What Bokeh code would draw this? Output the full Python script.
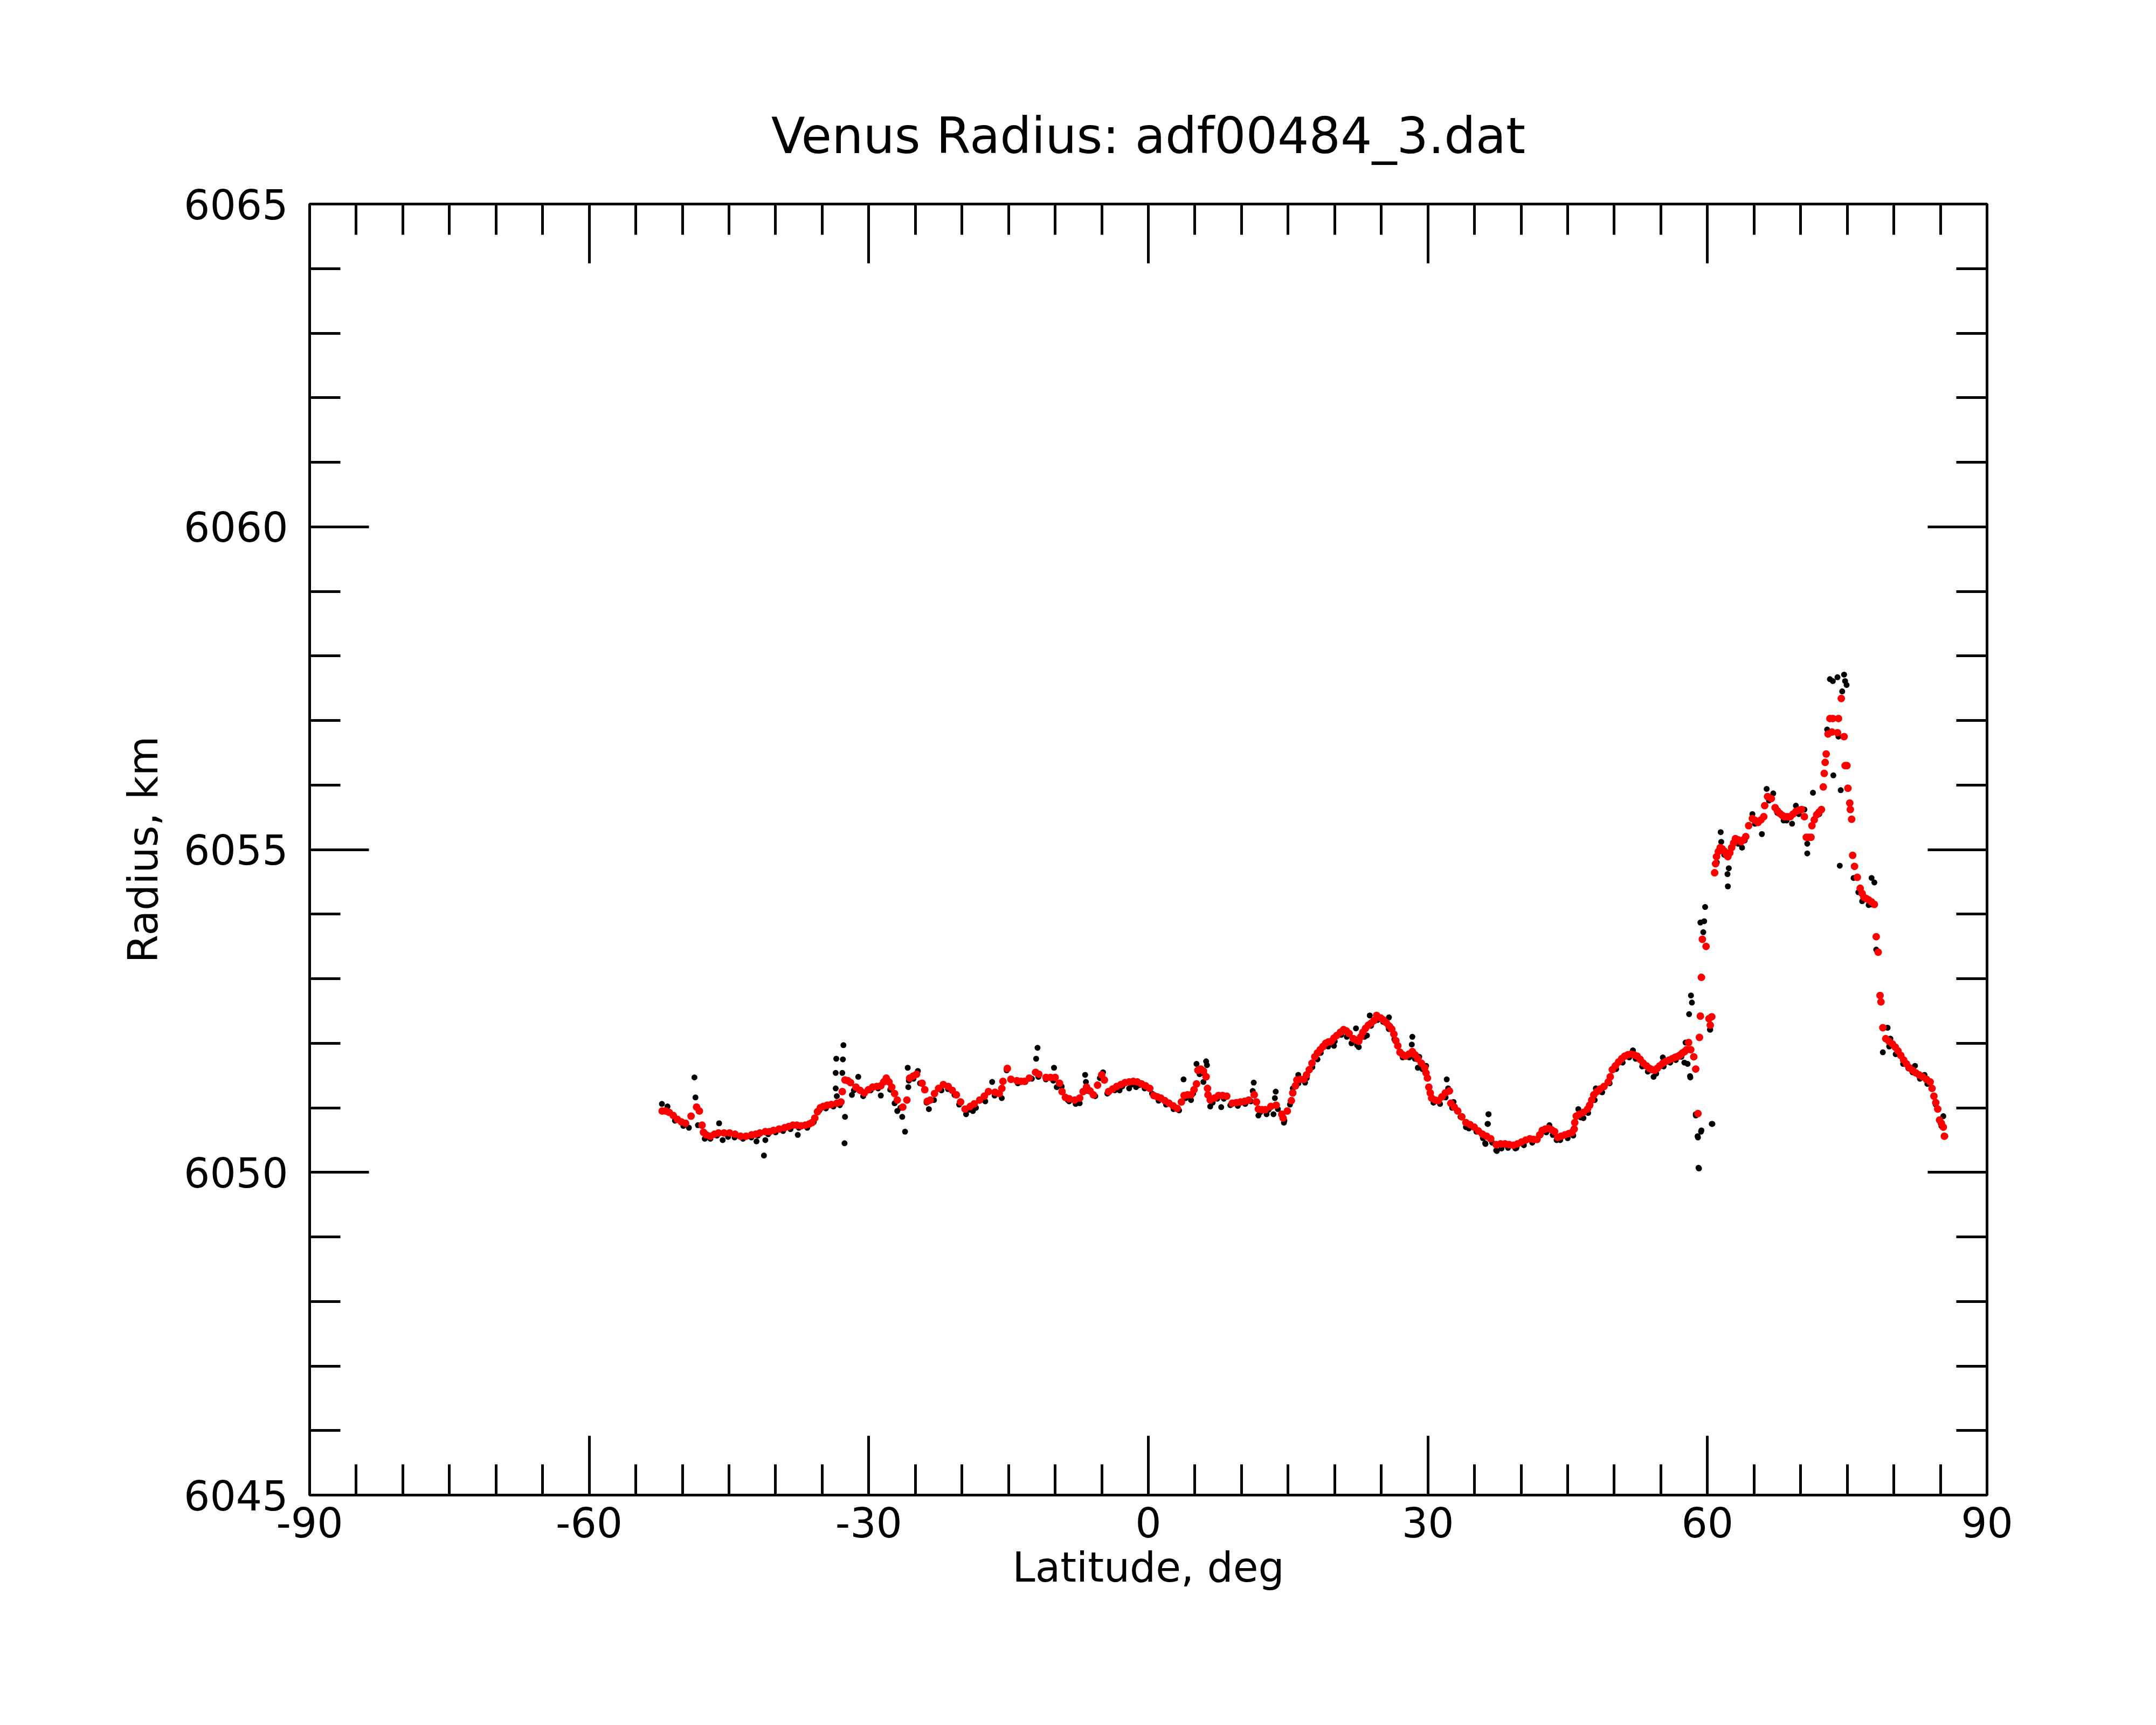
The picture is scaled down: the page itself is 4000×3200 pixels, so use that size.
from bokeh.plotting import figure
from bokeh.models import Range1d, LinearAxis, FixedTicker, ColumnDataSource, CustomLabelingPolicy
from bokeh.embed import file_html
from bokeh.resources import INLINE

# ---------------- data ----------------
title_text = "Venus Radius: adf00484_3.dat"
x_label = "Latitude, deg"
y_label = "Radius, km"

x_major = [-90, -60, -30, 0, 30, 60, 90]
x_tick_labels = ["-90", "-60", "-30", "0", "30", "60", "90"]
x_minor = [-85, -80, -75, -70, -65, -55, -50, -45, -40, -35, -25, -20, -15, -10, -5,
           5, 10, 15, 20, 25, 35, 40, 45, 50, 55, 65, 70, 75, 80, 85]
y_major = [6045, 6050, 6055, 6060, 6065]
y_tick_labels = ["6045", "6050", "6055", "6060", "6065"]
y_minor = [6046, 6047, 6048, 6049, 6051, 6052, 6053, 6054, 6056, 6057, 6058, 6059,
           6061, 6062, 6063, 6064]

# smoothed profile (red)
red_lat = [
    -52.17, -51.80, -51.43, -50.98, -50.54, -50.10, -49.66, -49.07, -48.48, -48.18,
    -47.89, -47.74, -47.45, -47.00, -46.56, -46.12, -45.53, -44.94, -44.35, -43.76,
    -43.17, -42.58, -42.13, -41.69, -41.10, -40.66, -40.22, -39.63, -39.04, -38.59,
    -38.15, -37.71, -37.27, -36.82, -36.38, -36.09, -35.79, -35.50, -35.20, -34.91,
    -34.46, -34.02, -33.43, -32.99, -32.84, -32.55, -32.25, -31.96, -31.37, -30.93,
    -30.48, -30.04, -29.59, -29.15, -28.71, -28.40, -28.12, -27.83, -27.53, -27.23,
    -26.94, -26.35, -25.91, -25.61, -25.24, -24.87, -24.28, -23.99, -23.72, -23.40,
    -22.95, -22.51, -22.00, -21.48, -21.04, -20.60, -20.15, -19.67, -19.12, -18.68,
    -18.10, -17.60, -17.16, -16.46, -16.00, -15.72, -15.60, -15.13, -14.74, -14.10,
    -13.66, -13.30, -12.78, -12.10, -11.75, -10.98, -10.50, -10.00, -9.53, -9.26,
    -8.90, -8.50, -7.90,
    -7.37, -7.00, -6.63, -6.25, -5.90, -5.45, -5.01, -4.72, -4.27, -3.83,
    -3.39, -2.95, -2.50, -2.06, -1.62, -1.18, -0.73, -0.29, 0.15, 0.59,
    0.96, 1.33, 1.78, 2.22, 2.66, 3.10, 3.55, 3.84, 4.20, 4.58,
    4.90, 5.17, 5.32, 5.62, 5.91, 6.20, 6.35, 6.40, 6.64, 7.10,
    7.53, 7.97, 8.41, 9.00, 9.45, 9.89, 10.33, 10.77, 11.36, 11.60,
    11.81, 12.20, 12.55, 13.14, 13.72, 14.32, 14.46, 14.91, 15.35, 15.50,
    15.79, 15.94, 16.32, 16.68, 16.97, 17.27, 17.56, 17.86, 18.15, 18.45,
    18.75, 19.04, 19.33, 19.63, 19.92, 20.22, 20.60, 20.95, 21.25, 21.54,
    21.99, 22.30, 22.58, 22.80, 23.02, 23.30, 23.61, 23.90, 24.20, 24.50,
    24.94, 25.23, 25.53, 25.82, 26.12, 26.35, 26.56, 26.77, 27.00, 27.30,
    27.59, 27.95, 28.33, 28.62, 28.92, 29.30, 29.66, 29.80, 29.95, 30.10,
    30.25, 30.40, 30.77, 31.13, 31.50, 31.87, 32.31, 32.46, 32.83, 33.20,
    33.64, 34.08, 34.52, 34.97, 35.42, 35.86, 36.30, 36.74, 37.33, 37.80,
    38.28, 38.72, 39.17, 39.61, 40.05, 40.50, 40.94, 41.32, 41.71, 42.00,
    42.27, 42.60, 42.93, 43.26, 43.59, 43.93, 44.30, 44.70, 45.10, 45.48,
    45.70, 45.76, 45.92, 46.25, 46.69, 47.13, 47.36, 47.58, 47.80, 48.13,
    48.46, 48.90, 49.35, 49.57, 49.79, 50.12, 50.46, 50.79, 51.12, 51.45,
    51.78, 52.12, 52.45, 52.78, 53.11, 53.45, 53.78, 54.05, 54.33, 54.60,
    54.88, 55.21, 55.55, 55.88, 56.21, 56.50, 56.71, 56.88, 57.10, 57.32,
    57.55, 57.76, 57.98, 58.20, 58.53, 58.74, 58.98, 59.14, 59.24, 59.35,
    59.45, 59.85, 60.16, 60.30, 60.46,
    60.77, 60.87, 60.97, 61.17, 61.37, 61.58, 61.78, 62.00, 62.19, 62.40,
    62.59, 62.80, 63.00, 63.30, 63.60, 63.85, 64.11, 64.42, 64.82, 65.12,
    65.43, 65.74, 66.04, 66.14, 66.45, 66.85, 67.26, 67.50, 67.77, 68.02,
    68.27, 68.58, 68.88, 69.18, 69.49, 69.80, 70.10, 70.40, 70.61, 70.86,
    71.11, 71.21, 71.46, 71.72, 71.98, 72.23, 72.43, 72.53, 72.63, 72.74,
    72.94, 73.14, 73.35, 73.45, 73.95, 74.06, 74.36, 74.66, 74.77, 74.97,
    75.07, 75.27, 75.33, 75.47, 75.58, 75.78, 76.08, 76.39, 76.60, 76.79,
    77.05, 77.30, 77.60, 77.91, 78.11, 78.32, 78.52, 78.62, 78.82, 79.13,
    79.48, 79.84, 80.15, 80.45, 80.75, 81.05, 81.35, 81.66, 82.00, 82.37,
    82.72, 83.08, 83.50, 83.90, 84.10, 84.30, 84.50, 84.71, 84.91, 85.10,
    85.31, 85.42,
]
red_rad = [
    6050.95, 6050.95, 6050.93, 6050.88, 6050.82, 6050.78, 6050.76, 6050.87, 6051.01, 6050.95,
    6050.73, 6050.62, 6050.58, 6050.56, 6050.59, 6050.61, 6050.61, 6050.61, 6050.59, 6050.56,
    6050.56, 6050.58, 6050.59, 6050.61, 6050.63, 6050.63, 6050.65, 6050.67, 6050.69, 6050.71,
    6050.73, 6050.73, 6050.72, 6050.73, 6050.75, 6050.77, 6050.84, 6050.94, 6051.00, 6051.02,
    6051.04, 6051.05, 6051.07, 6051.09, 6051.25, 6051.43, 6051.42, 6051.39, 6051.32, 6051.27,
    6051.23, 6051.28, 6051.32, 6051.33, 6051.34, 6051.40, 6051.46, 6051.40, 6051.32, 6051.22,
    6051.12, 6051.01, 6051.12, 6051.46, 6051.49, 6051.52, 6051.38, 6051.28, 6051.10, 6051.12,
    6051.22, 6051.30, 6051.36, 6051.33, 6051.27, 6051.20, 6051.09, 6050.98, 6051.02, 6051.06,
    6051.12, 6051.18, 6051.25, 6051.24, 6051.22, 6051.30, 6051.41, 6051.61, 6051.44, 6051.42,
    6051.41, 6051.41, 6051.46, 6051.55, 6051.52, 6051.47, 6051.47, 6051.47, 6051.38, 6051.25,
    6051.16, 6051.14, 6051.12,
    6051.15, 6051.25, 6051.32, 6051.26, 6051.20, 6051.35, 6051.51, 6051.43, 6051.25, 6051.29,
    6051.33, 6051.36, 6051.39, 6051.40, 6051.41, 6051.40, 6051.37, 6051.34, 6051.30, 6051.19,
    6051.17, 6051.15, 6051.11, 6051.07, 6051.03, 6050.99, 6051.09, 6051.19, 6051.20, 6051.20,
    6051.28, 6051.37, 6051.58, 6051.60, 6051.57, 6051.48, 6051.30, 6051.20, 6051.12, 6051.15,
    6051.19, 6051.19, 6051.18, 6051.07, 6051.08, 6051.09, 6051.10, 6051.12, 6051.20, 6051.09,
    6050.98, 6050.97, 6050.97, 6051.02, 6051.04, 6050.90, 6050.84, 6050.95, 6051.11, 6051.23,
    6051.34, 6051.43, 6051.44, 6051.44, 6051.51, 6051.59, 6051.69, 6051.79, 6051.85, 6051.90,
    6051.95, 6052.00, 6052.02, 6052.03, 6052.08, 6052.12, 6052.17, 6052.21, 6052.19, 6052.15,
    6052.07, 6052.05, 6052.03, 6052.10, 6052.17, 6052.23, 6052.28, 6052.31, 6052.35, 6052.43,
    6052.39, 6052.36, 6052.32, 6052.27, 6052.22, 6052.14, 6052.04, 6051.96, 6051.86, 6051.82,
    6051.80, 6051.83, 6051.87, 6051.82, 6051.76, 6051.69, 6051.62, 6051.54, 6051.46, 6051.32,
    6051.23, 6051.15, 6051.12, 6051.11, 6051.17, 6051.23, 6051.26, 6051.07, 6051.01, 6050.95,
    6050.86, 6050.77, 6050.74, 6050.70, 6050.64, 6050.59, 6050.56, 6050.52, 6050.43, 6050.44,
    6050.44, 6050.43, 6050.42, 6050.44, 6050.47, 6050.50, 6050.52, 6050.51, 6050.51, 6050.58,
    6050.65, 6050.67, 6050.68, 6050.66, 6050.63, 6050.54, 6050.56, 6050.58, 6050.60, 6050.62,
    6050.67, 6050.77, 6050.87, 6050.90, 6050.93, 6050.98, 6051.04, 6051.12, 6051.20, 6051.25,
    6051.29, 6051.33, 6051.40, 6051.48, 6051.59, 6051.65, 6051.71, 6051.76, 6051.80, 6051.82,
    6051.83, 6051.82, 6051.80, 6051.75, 6051.69, 6051.65, 6051.61, 6051.59, 6051.58, 6051.61,
    6051.65, 6051.69, 6051.72, 6051.74, 6051.76, 6051.78, 6051.79, 6051.80, 6051.82, 6051.85,
    6051.87, 6051.90, 6052.01, 6051.90, 6051.79, 6051.60, 6050.91, 6052.09, 6052.42, 6053.02,
    6053.61, 6053.50, 6052.38, 6052.28, 6052.41,
    6054.64, 6054.78, 6054.89, 6054.97, 6055.03, 6055.01, 6054.98, 6054.93, 6054.89, 6054.95,
    6055.03, 6055.10, 6055.17, 6055.15, 6055.12, 6055.15, 6055.20, 6055.37, 6055.48, 6055.45,
    6055.42, 6055.46, 6055.51, 6055.68, 6055.82, 6055.79, 6055.65, 6055.60, 6055.56, 6055.53,
    6055.51, 6055.51, 6055.51, 6055.55, 6055.59, 6055.61, 6055.62, 6055.51, 6055.19, 6055.19,
    6055.19, 6055.37, 6055.46, 6055.54, 6055.58, 6055.62, 6055.97, 6056.18, 6056.35, 6056.48,
    6056.79, 6057.03, 6056.82, 6057.03, 6056.81, 6057.03, 6057.34, 6056.75, 6056.30, 6056.30,
    6055.95, 6055.72, 6055.62, 6055.47, 6054.91, 6054.74, 6054.57, 6054.40, 6054.32, 6054.26,
    6054.24, 6054.22, 6054.19, 6054.15, 6053.65, 6053.41, 6052.74, 6052.64, 6052.24, 6052.07,
    6052.03, 6051.99, 6051.94, 6051.88, 6051.81, 6051.74, 6051.68, 6051.62, 6051.58, 6051.54,
    6051.51, 6051.48, 6051.44, 6051.40, 6051.30, 6051.18, 6051.08, 6050.98, 6050.81, 6050.76,
    6050.70, 6050.56,
]

# raw measurements (black)
blk_lat = [
    -52.20, -51.60, -50.80, -49.90, -49.30, -48.71, -48.60, -48.33, -47.60, -47.00,
    -46.30, -46.06, -45.68, -45.10, -44.40, -43.50, -42.60, -42.05, -41.90, -41.25,
    -41.10, -40.80, -40.00, -39.20, -38.40, -37.62, -37.50, -36.60, -35.90, -35.30,
    -34.60, -33.80, -33.55, -33.55, -33.49, -33.43, -33.10, -32.84, -32.78, -32.72,
    -32.60, -32.55, -31.81, -31.60, -31.13, -30.60, -29.80, -29.00, -28.71, -28.30,
    -27.70, -27.23, -26.94, -26.60, -26.41, -26.11, -25.82, -25.76, -25.70, -25.20,
    -24.73, -24.50, -23.80, -23.55, -23.00, -22.20, -21.50, -20.80, -20.30, -19.56,
    -19.20, -18.83, -18.50, -17.50, -16.76, -16.50, -15.73, -15.20, -14.80, -14.00,
    -13.20, -12.50, -12.04, -11.89, -11.80, -11.00, -10.20, -10.12, -9.83, -9.30,
    -8.64, -8.50, -7.80, -7.37, -6.78, -6.70, -6.50, -5.70, -5.20, -4.86,
    -4.40, -3.60, -3.09, -2.80, -2.06, -1.80, -1.32, -1.00, -0.40, 0.40,
    1.10, 1.90, 2.70, 3.30, 3.78, 4.00, 4.58, 4.80, 5.17, 5.50,
    5.91, 6.00, 6.20, 6.29, 6.64, 6.90, 7.40, 7.82, 8.10, 8.80,
    9.60, 10.40, 11.00, 11.20, 11.31, 11.81, 12.00, 12.69, 12.90, 13.43,
    13.58, 13.67, 13.90, 14.55, 14.60, 15.20, 15.50, 16.09, 16.10, 16.82,
    17.00, 17.60, 18.15, 18.50, 19.30, 19.92, 20.00, 20.70, 21.30, 21.80,
    22.28, 22.40, 22.58, 23.20, 23.46, 23.76, 23.90, 24.60, 25.20, 25.80,
    25.82, 25.97, 26.40, 27.30, 28.00, 28.27, 28.33, 28.60, 28.92, 29.07,
    29.40, 29.81, 30.60, 31.30, 31.90, 32.02, 32.17, 32.60, 32.75, 33.50,
    34.08, 34.40, 35.20, 35.90, 36.15, 36.18, 36.40, 36.44, 36.50, 36.51,
    36.90, 37.33, 37.40, 37.90, 38.60, 39.39, 39.50, 40.30, 41.20, 42.10,
    42.70, 43.04, 43.40, 43.81, 44.20, 45.00, 45.60, 46.14, 46.40, 46.69,
    47.20, 47.90, 48.02, 48.70, 49.50, 50.20, 50.90, 51.60, 52.00, 52.30,
    53.00, 53.60, 54.22, 54.50, 55.21, 55.30, 56.00, 56.60, 57.20, 57.52,
    57.65, 57.87, 58.03, 58.13, 58.16, 58.23, 58.33, 58.74, 58.75, 58.94,
    58.98, 59.04, 59.09, 59.24, 59.31, 59.35, 59.55, 59.65, 59.75, 60.26,
    60.30, 60.46, 60.53, 61.00, 61.42, 61.48, 61.80, 62.15, 62.19, 62.29,
    63.30, 63.71, 64.00, 64.82, 65.10, 65.84, 66.35, 66.60, 67.06, 67.50,
    68.17, 68.50, 69.08, 69.49, 69.80, 70.40, 70.71, 70.71, 71.32, 71.50,
    72.00, 72.84, 73.14, 73.45, 73.51, 73.95, 74.06, 74.20, 74.30, 74.46,
    74.66, 74.77, 74.93, 75.68, 76.19, 76.60, 77.30, 77.61, 77.60, 77.91,
    78.11, 78.82, 79.33, 79.50, 79.63, 80.20, 81.00, 81.56, 82.00, 82.27,
    82.80, 83.29, 83.60, 84.50, 85.10, 85.31, 85.52,
]
blk_rad = [
    6051.06, 6051.02, 6050.80, 6050.72, 6050.69, 6051.47, 6051.16, 6050.73, 6050.52, 6050.52,
    6050.57, 6050.76, 6050.50, 6050.55, 6050.54, 6050.52, 6050.54, 6050.48, 6050.57, 6050.26,
    6050.50, 6050.59, 6050.62, 6050.64, 6050.67, 6050.58, 6050.69, 6050.69, 6050.78, 6050.96,
    6050.99, 6051.02, 6051.54, 6051.30, 6051.76, 6051.18, 6051.04, 6051.54, 6051.75, 6051.97,
    6050.45, 6050.86, 6051.20, 6051.27, 6051.48, 6051.18, 6051.27, 6051.30, 6051.19, 6051.41,
    6051.28, 6051.07, 6050.95, 6051.00, 6050.86, 6050.63, 6051.62, 6051.32, 6051.42, 6051.45,
    6051.57, 6051.38, 6051.08, 6050.98, 6051.12, 6051.27, 6051.29, 6051.20, 6051.05, 6050.90,
    6050.97, 6050.95, 6051.00, 6051.10, 6051.40, 6051.19, 6051.15, 6051.58, 6051.45, 6051.38,
    6051.40, 6051.45, 6051.76, 6051.93, 6051.48, 6051.44, 6051.42, 6051.62, 6051.32, 6051.33,
    6051.12, 6051.10, 6051.06, 6051.07, 6051.51, 6051.40, 6051.26, 6051.18, 6051.46, 6051.55,
    6051.22, 6051.27, 6051.27, 6051.33, 6051.30, 6051.36, 6051.32, 6051.35, 6051.30, 6051.22,
    6051.11, 6051.05, 6050.98, 6050.96, 6051.44, 6051.15, 6051.12, 6051.22, 6051.68, 6051.52,
    6051.40, 6051.53, 6051.72, 6051.66, 6051.02, 6051.08, 6051.14, 6051.01, 6051.14, 6051.04,
    6051.03, 6051.06, 6051.10, 6051.26, 6051.39, 6050.88, 6050.93, 6050.90, 6050.97, 6050.90,
    6051.15, 6051.25, 6050.98, 6050.77, 6050.80, 6051.05, 6051.30, 6051.51, 6051.38, 6051.39,
    6051.46, 6051.63, 6051.75, 6051.85, 6051.95, 6051.96, 6052.03, 6052.13, 6052.10, 6052.00,
    6052.23, 6051.97, 6051.94, 6052.10, 6052.12, 6052.43, 6052.27, 6052.36, 6052.33, 6052.22,
    6052.40, 6052.26, 6052.06, 6051.78, 6051.78, 6051.98, 6052.10, 6051.76, 6051.62, 6051.79,
    6051.60, 6051.65, 6051.08, 6051.06, 6051.16, 6051.44, 6051.30, 6051.00, 6051.09, 6050.86,
    6050.70, 6050.68, 6050.63, 6050.53, 6050.45, 6050.44, 6050.75, 6050.75, 6050.90, 6050.90,
    6050.46, 6050.34, 6050.33, 6050.37, 6050.38, 6050.37, 6050.38, 6050.42, 6050.46, 6050.58,
    6050.62, 6050.73, 6050.58, 6050.50, 6050.50, 6050.53, 6050.57, 6050.98, 6050.85, 6050.84,
    6050.92, 6051.12, 6051.30, 6051.24, 6051.38, 6051.60, 6051.70, 6051.78, 6051.89, 6051.76,
    6051.64, 6051.56, 6051.48, 6051.53, 6051.78, 6051.64, 6051.70, 6051.74, 6051.79, 6051.70,
    6052.01, 6051.68, 6052.45, 6051.49, 6051.47, 6052.74, 6052.63, 6050.90, 6050.88, 6050.56,
    6050.54, 6050.07, 6050.06, 6053.87, 6050.63, 6050.65, 6053.72, 6053.89, 6054.11, 6052.21,
    6052.21, 6050.75, 6050.75, 6054.80, 6055.27, 6055.12, 6054.92, 6054.62, 6054.43, 6054.71,
    6055.09, 6055.03, 6055.14, 6055.55, 6055.40, 6055.24, 6055.94, 6055.76, 6055.87, 6055.57,
    6055.45, 6055.45, 6055.40, 6055.68, 6055.55, 6055.62, 6055.09, 6054.94, 6055.88, 6055.48,
    6055.55, 6056.86, 6057.64, 6057.61, 6056.15, 6057.67, 6056.75, 6054.75, 6055.92, 6057.45,
    6057.71, 6057.61, 6057.55, 6054.56, 6054.34, 6054.20, 6054.14, 6054.56, 6054.15, 6054.49,
    6053.45, 6051.86, 6052.24, 6051.95, 6052.07, 6051.83, 6051.68, 6051.61, 6051.55, 6051.65,
    6051.45, 6051.51, 6051.37, 6051.05, 6050.72, 6050.87, 6050.56,
]

# ---------------- figure ----------------
FONT = "DejaVu Sans"

p = figure(width=3984, height=3184, output_backend="svg", toolbar_location=None,
           x_range=Range1d(-90, 90), y_range=Range1d(6045, 6065),
           x_axis_location=None, y_axis_location=None,
           min_border_left=574, min_border_right=298,
           min_border_top=378, min_border_bottom=411)
p.grid.visible = False
p.background_fill_color = "white"
p.border_fill_color = "white"
p.outline_line_color = "black"
p.outline_line_width = 5

p.title.text = title_text
p.title.align = "center"
p.title.text_font = FONT
p.title.text_font_size = "92px"
p.title.text_font_style = "normal"
p.title.text_color = "black"
p.title.standoff = 145

# mirror axes (top / right) carry ticks only: drop every label
no_labels = CustomLabelingPolicy(code="""
if (typeof indices.clear === "function") { indices.clear(); return indices }
for (const i of Array.from(indices)) { indices.unset(i) }
return indices
""")


def make_axis(ticks, minor, labels, show_labels):
    ax = LinearAxis(ticker=FixedTicker(ticks=ticks, minor_ticks=minor))
    ax.major_tick_in = 110
    ax.major_tick_out = 0
    ax.minor_tick_in = 57
    ax.minor_tick_out = 0
    ax.major_tick_line_width = 5
    ax.minor_tick_line_width = 5
    ax.major_tick_line_color = "black"
    ax.minor_tick_line_color = "black"
    ax.axis_line_width = 5
    ax.axis_line_color = "black"
    ax.major_label_text_font = FONT
    ax.major_label_text_color = "black"
    ax.major_label_text_font_size = "76px"
    ax.axis_label_text_font = FONT
    ax.axis_label_text_font_size = "76px"
    ax.axis_label_text_font_style = "normal"
    ax.axis_label_text_color = "black"
    if show_labels:
        ax.major_label_overrides = {t: s for t, s in zip(ticks, labels)}
    else:
        ax.major_label_overrides = {t: "" for t in ticks}
        ax.major_label_policy = no_labels
        ax.major_label_standoff = 0
    return ax


bottom = make_axis(x_major, x_minor, x_tick_labels, True)
bottom.axis_label = x_label
bottom.major_label_standoff = 22
bottom.axis_label_standoff = 8
p.add_layout(bottom, "below")

top = make_axis(x_major, x_minor, x_tick_labels, False)
p.add_layout(top, "above")

left = make_axis(y_major, y_minor, y_tick_labels, True)
left.axis_label = y_label
left.major_label_standoff = 40
left.axis_label_standoff = 28
p.add_layout(left, "left")

right = make_axis(y_major, y_minor, y_tick_labels, False)
p.add_layout(right, "right")

blk = ColumnDataSource(dict(lat=blk_lat, rad=blk_rad))
red = ColumnDataSource(dict(lat=red_lat, rad=red_rad))
p.scatter("lat", "rad", source=blk, size=11, color="black", line_color=None)
p.scatter("lat", "rad", source=red, size=14, color="#ff0000", line_color=None)

open("out.html", "w").write(file_html(p, INLINE))
